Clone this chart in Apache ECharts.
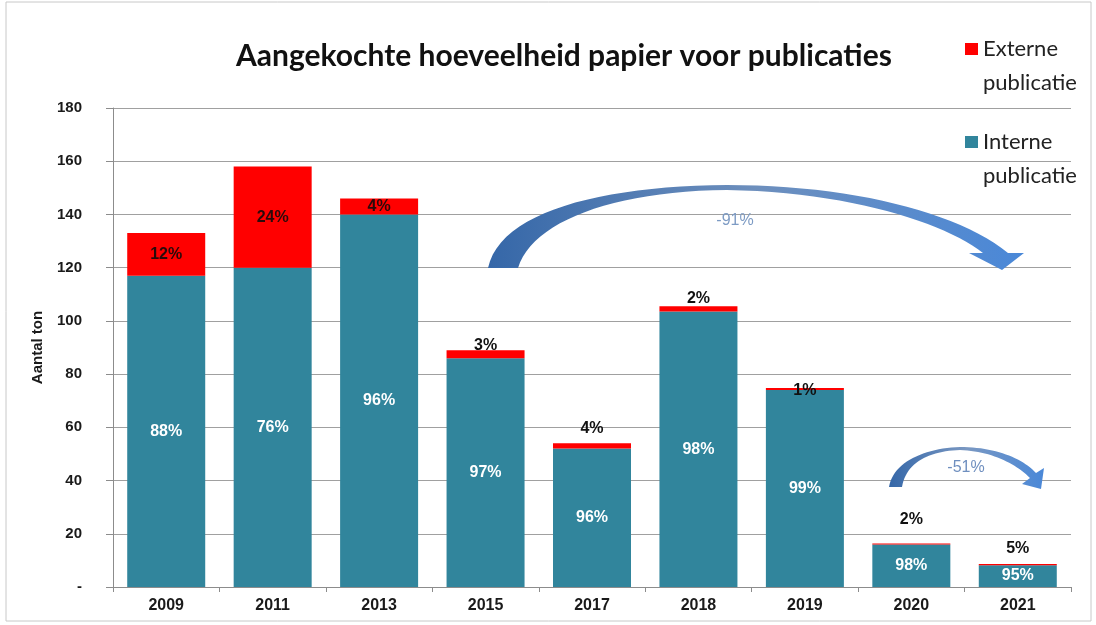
<!DOCTYPE html>
<html>
<head>
<meta charset="utf-8">
<script src="https://cdn.jsdelivr.net/npm/echarts@6/dist/echarts.min.js"></script>
<style>
html,body{margin:0;padding:0;background:#fff;}
#chart{width:1096px;height:625px;}
</style>
</head>
<body>
<div id="chart"></div>
<script>
// ---- data ----
const categories = ['2009','2011','2013','2015','2017','2018','2019','2020','2021'];
const interne = [117, 120, 140, 86, 52, 103.5, 74, 16, 8.2];
const externe = [16, 38, 6, 3, 2, 2, 0.8, 0.3, 0.4];
const internePct = [88, 76, 96, 97, 96, 98, 99, 98, 95];
const externePct = [12, 24, 4, 3, 4, 2, 1, 2, 5];
const yTicks = [0, 20, 40, 60, 80, 100, 120, 140, 160, 180];
const arrowLabels = ['-91%', '-51%'];

// label layout for the red (externe) labels: inside for large segments, above otherwise
const externeLabelDistance = [null, null, null, -3, 7, 0, -11, 16, 8];

const chart = echarts.init(document.getElementById('chart'));
const labelFont = 'Liberation Sans, Arial, sans-serif';

const externeData = externe.map((v, i) => {
  const d = externeLabelDistance[i];
  return {
    value: v,
    label: d === null
      ? { position: 'inside', color: '#2a0a0a' }
      : { position: 'top', distance: d, color: '#111' }
  };
});

function grad(c0, c1, c2) {
  return { type: 'linear', x: 0, y: 0, x2: 1, y2: 0,
    colorStops: [{ offset: 0, color: c0 }, { offset: 0.5, color: c1 }, { offset: 1, color: c2 }] };
}

// turn a simple M/C/L/Z outline into polygon points (annotation arrows)
function outline(d) {
  const tok = d.replace(/([MCLZ])/g, ' $1 ').replace(/,/g, ' ').trim().split(/\s+/);
  const pts = [];
  let i = 0, cur = [0, 0], cmd = null;
  while (i < tok.length) {
    if (/[MCLZ]/.test(tok[i])) { cmd = tok[i++]; if (cmd === 'Z') continue; }
    if (cmd === 'M' || cmd === 'L') {
      cur = [+tok[i], +tok[i + 1]]; i += 2; pts.push(cur.slice());
    } else if (cmd === 'C') {
      const p1 = [+tok[i], +tok[i + 1]], p2 = [+tok[i + 2], +tok[i + 3]], p3 = [+tok[i + 4], +tok[i + 5]];
      i += 6;
      for (let k = 1; k <= 24; k++) {
        const t = k / 24, u = 1 - t;
        pts.push([
          u * u * u * cur[0] + 3 * u * u * t * p1[0] + 3 * u * t * t * p2[0] + t * t * t * p3[0],
          u * u * u * cur[1] + 3 * u * u * t * p1[1] + 3 * u * t * t * p2[1] + t * t * t * p3[1]
        ]);
      }
      cur = p3;
    } else { i++; }
  }
  return pts;
}

const bigArrow = outline('M488,268 C500,212 600,186 727,185 C850,185 958,212 1008,253 L1024,253 L1002,270 L969,253 L983,253 C945,223 850,192 727,190 C612,191 532,222 518,268 Z');
const smallArrow = outline('M889,487 C893,462 925,448 960,447 C995,447 1022,458 1036,473 L1044,468 L1041,489 L1022,484 L1030,478 C1015,463 990,451 960,450 C930,451 906,462 902,487 Z');

const option = {
  animation: false,
  backgroundColor: '#ffffff',
  title: {
    text: 'Aangekochte hoeveelheid papier voor publicaties',
    left: 231,
    top: 36,
    textStyle: { fontFamily: 'Lato, sans-serif', fontWeight: 'bold', fontSize: 30, color: '#111' }
  },
  legend: {
    orient: 'vertical',
    left: 960,
    top: -7,
    itemWidth: 13,
    itemHeight: 12,
    itemGap: -9,
    icon: 'rect',
    data: ['Externe publicatie', 'Interne publicatie'],
    formatter: n => '\n' + n.replace(' ', '\n'),
    textStyle: {
      fontFamily: 'Lato, sans-serif', fontSize: 22, color: '#222', lineHeight: 34
    }
  },
  grid: { left: 113, right: 25, top: 108, bottom: 38, containLabel: false },
  xAxis: {
    type: 'category',
    data: categories,
    axisLine: { lineStyle: { color: '#8c8c8c' } },
    axisTick: { show: true, length: 5, lineStyle: { color: '#8c8c8c' } },
    axisLabel: { fontFamily: labelFont, fontWeight: 'bold', fontSize: 16, color: '#1a1a1a', margin: 11 }
  },
  yAxis: {
    type: 'value',
    min: yTicks[0],
    max: yTicks[yTicks.length - 1],
    interval: yTicks[1] - yTicks[0],
    name: 'Aantal ton',
    nameLocation: 'middle',
    nameGap: 68,
    nameRotate: 90,
    nameTextStyle: { fontFamily: labelFont, fontWeight: 'bold', fontSize: 15, color: '#1a1a1a' },
    axisLine: { show: true, lineStyle: { color: '#8c8c8c' } },
    axisTick: { show: true, length: 7, lineStyle: { color: '#8c8c8c' } },
    axisLabel: {
      fontFamily: labelFont, fontWeight: 'bold', fontSize: 15, color: '#1a1a1a', margin: 31,
      formatter: v => (v === 0 ? '-' : String(v))
    },
    splitLine: { lineStyle: { color: '#a0a0a0', width: 1 } }
  },
  series: [
    {
      name: 'Interne publicatie',
      type: 'bar',
      stack: 'total',
      barWidth: 78,
      itemStyle: { color: '#31859c' },
      label: {
        show: true, position: 'inside', color: '#ffffff',
        fontFamily: labelFont, fontWeight: 'bold', fontSize: 16,
        formatter: p => internePct[p.dataIndex] + '%'
      },
      data: interne
    },
    {
      name: 'Externe publicatie',
      type: 'bar',
      stack: 'total',
      barWidth: 78,
      itemStyle: { color: '#ff0000' },
      label: {
        show: true,
        fontFamily: labelFont, fontWeight: 'bold', fontSize: 16,
        formatter: p => externePct[p.dataIndex] + '%'
      },
      data: externeData
    }
  ],
  graphic: [
    {
      type: 'rect', z: -10, silent: true,
      shape: { x: 6, y: 2, width: 1085, height: 619 },
      style: { fill: 'none', stroke: '#c8c8c8', lineWidth: 1 }
    },
    {
      type: 'polygon', z: 100, silent: true,
      shape: { points: bigArrow },
      style: { fill: grad('#3567a8', '#6d8fbd', '#4a88d8') }
    },
    {
      type: 'text', z: 100,
      style: { text: arrowLabels[0], x: 735, y: 221, align: 'center', verticalAlign: 'middle',
        font: '16px Liberation Sans, Arial, sans-serif', fill: '#7d9bc4' }
    },
    {
      type: 'polygon', z: 100, silent: true,
      shape: { points: smallArrow },
      style: { fill: grad('#3567a8', '#7a98c2', '#4a88d8') }
    },
    {
      type: 'text', z: 100,
      style: { text: arrowLabels[1], x: 966, y: 468, align: 'center', verticalAlign: 'middle',
        font: '16px Liberation Sans, Arial, sans-serif', fill: '#6f8fbf' }
    }
  ]
};

chart.setOption(option);
</script>
</body>
</html>
